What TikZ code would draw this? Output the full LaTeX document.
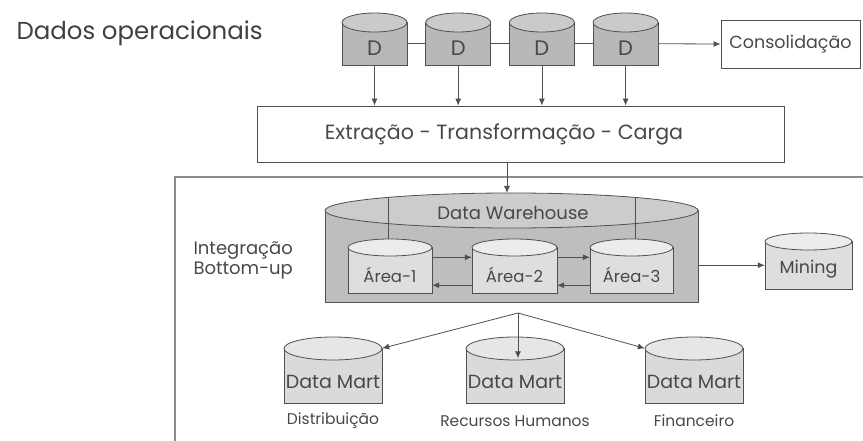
\documentclass[tikz,border=0pt]{standalone}
\usepackage{fontspec}
\setmainfont{Poppins}
\usepackage{xcolor}
\definecolor{figline}{RGB}{80,80,80}
\definecolor{figtext}{RGB}{72,72,72}
\definecolor{figframe}{RGB}{140,140,140}
\definecolor{srcbody}{RGB}{184,184,184}
\definecolor{srctop}{RGB}{202,202,202}
\definecolor{dwbody}{RGB}{190,190,190}
\definecolor{dwtop}{RGB}{204,204,204}
\definecolor{areabody}{RGB}{222,222,222}
\definecolor{areatop}{RGB}{236,236,236}
\definecolor{martbody}{RGB}{218,218,218}
\definecolor{marttop}{RGB}{230,230,230}
\usepackage{tikz}
\usetikzlibrary{arrows.meta,calc}

\tikzset{
  cyl edge/.style={draw=figline,line width=0.8pt},
  src body/.style={fill=srcbody}, src top/.style={fill=srctop},
  src text/.style={font=\fontsize{21}{21}\selectfont},
  dw body/.style={fill=dwbody}, dw top/.style={fill=dwtop},
  dw text/.style={},
  area body/.style={fill=areabody}, area top/.style={fill=areatop},
  area text/.style={font=\fontsize{16.5}{16.5}\selectfont},
  mart body/.style={fill=martbody}, mart top/.style={fill=marttop},
  mart text/.style={font=\fontsize{19}{19}\selectfont},
  flowbox/.style={draw=figline,line width=0.8pt,inner sep=0pt},
  conn/.style={draw=figline,line width=0.8pt},
  frame/.style={draw=figframe,line width=1.3pt}
}

% cylinder: name, left, ellipse centre y, right, bottom, half height of the ellipse, kind, text
\newcommand{\dbcyl}[8]{%
  \filldraw[cyl edge,#7 body] (#2,#3) rectangle (#4,#5);
  \filldraw[cyl edge,#7 top] ({(#2+#4)/2},#3) ellipse [x radius={(#4-#2)/2*1pt},y radius={#6*1pt}];
  \node[inner sep=0pt,minimum width={(#4-#2)*1pt},minimum height={(#5-#3)*1pt}] (#1) at ({(#2+#4)/2},{(#3+#5)/2}) {};
  \node[#7 text] (#1t) at ({(#2+#4)/2},{(#3+#6+#5)/2}) {#8};
}

\begin{document}
\begin{tikzpicture}[x=1pt,y=-1pt,text=figtext,>={Latex[length=7pt,width=6pt]}]
\useasboundingbox (0,0) rectangle (863,441);
\clip (0,0) rectangle (863,441);

\node[anchor=west,font=\fontsize{24.5}{24.5}\selectfont,text=black!75] (dados) at (13,33) {Dados operacionais};

% operational sources
\foreach \i in {1,...,4} {
  \pgfmathsetmacro\l{342+(\i-1)*83.7}
  \dbcyl{d\i}{\l}{22.5}{\l+65}{65}{9.5}{src}{D}
}
\foreach \a/\b in {1/2,2/3,3/4}
  \draw[conn] (d\a.east) -- (d\b.west);

\node[flowbox,minimum width=139pt,minimum height=48pt,font=\fontsize{17.5}{17.5}\selectfont] (cons) at (790.5,44) {Consolidação};
\draw[conn,->] (d4.east) -- (cons.west);

\node[flowbox,minimum width=527pt,minimum height=56pt] (etl) at (520.5,134) {};
\node[font=\fontsize{20.6}{20.6}\selectfont] (etltxt) at (504,134) {Extração - Transformação - Carga};
\foreach \i in {1,...,4}
  \draw[conn,->] (d\i.south) -- (d\i.south |- etl.north);

% integration frame
\draw[frame] (175,177) rectangle (890,470);
\node[anchor=north west,align=left,font=\fontsize{18}{20.5}\selectfont] (integ) at (190,238) {Integração\\Bottom-up};

% data warehouse
\dbcyl{dw}{325}{210.5}{698}{302}{17.5}{dw}{}
\node[font=\fontsize{18}{18}\selectfont] (dwlbl) at (513,213) {Data Warehouse};
\draw[conn] (388,197) -- (388,239);
\draw[conn] (635,197) -- (635,239);
\coordinate (dwtop) at (507,193);
\draw[conn,->] (etl.south -| dwtop) -- (dwtop);

\foreach \i/\l/\r in {1/348/432,2/472/557,3/590/673} {
  \dbcyl{a\i}{\l}{247.5}{\r}{293}{8.5}{area}{Área-\i}
}
\foreach \a/\b in {1/2,2/3} {
  \draw[conn,->] ([yshift=13pt]a\a.east) -- ([yshift=13pt]a\b.west);
  \draw[conn,->] ([yshift=-15pt]a\b.west) -- ([yshift=-15pt]a\a.east);
}

\dbcyl{mine}{765}{241.5}{852}{289}{8.5}{area}{\fontsize{17.5}{17.5}\selectfont Mining}
\draw[conn,->] (dw.east |- mine.west) -- (mine.west);

% data marts
\foreach \i/\l/\lab in {1/284/Distribuição,2/466/Recursos Humanos,3/645/Financeiro} {
  \dbcyl{dm\i}{\l}{348.5}{\l+98}{403}{11.5}{mart}{Data Mart}
  \node[font=\fontsize{15.5}{15.5}\selectfont] (dmlab\i) at (\l+49,421) {\lab};
}
\coordinate (fork) at (518,313);
\coordinate (dm2in) at ([yshift=-10pt]dm2.north);
\draw[conn,->] (fork) -- (dm1.north east);
\draw[conn,->] (fork) -- (fork |- dm2in);
\draw[conn,->] (fork) -- (dm3.north west);
\end{tikzpicture}
\end{document}
